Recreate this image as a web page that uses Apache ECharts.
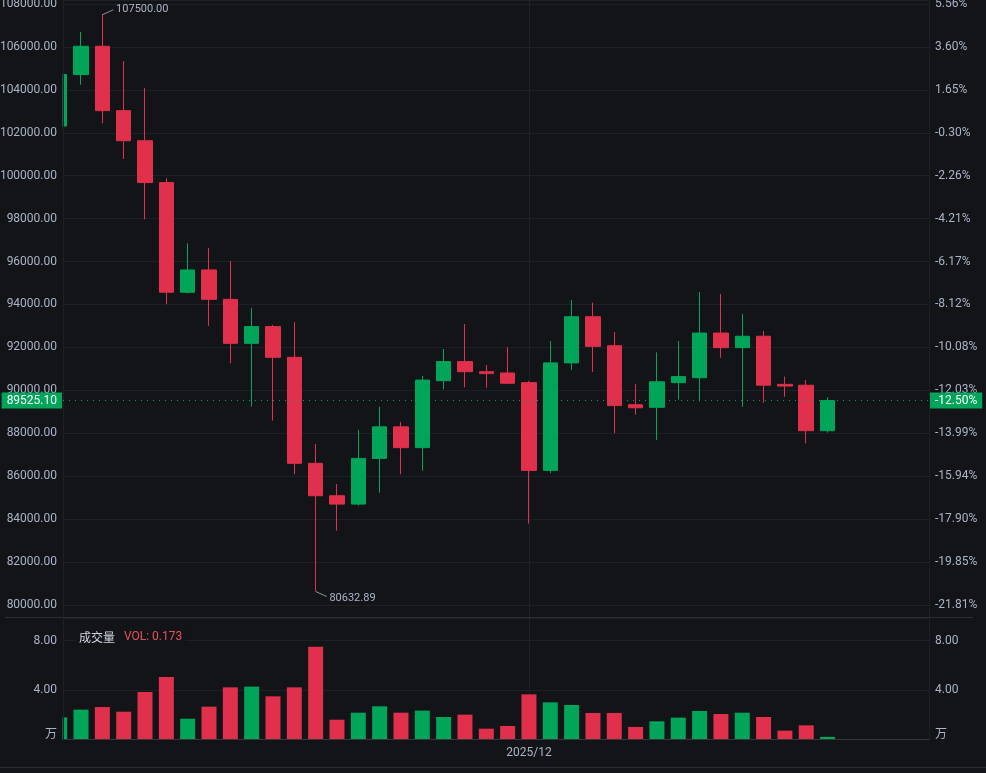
<!DOCTYPE html>
<html><head><meta charset="utf-8">
<script src="https://cdn.jsdelivr.net/npm/echarts@6/dist/echarts.min.js"></script>
<style>html,body{margin:0;padding:0;background:#131418;}#c{width:986px;height:773px;}</style>
</head><body><div id="c"></div>
<script>
const dates = ['2025/11/09','2025/11/10','2025/11/11','2025/11/12','2025/11/13','2025/11/14','2025/11/15','2025/11/16','2025/11/17','2025/11/18',
  '2025/11/19','2025/11/20','2025/11/21','2025/11/22','2025/11/23','2025/11/24','2025/11/25','2025/11/26','2025/11/27','2025/11/28',
  '2025/11/29','2025/11/30','2025/12/01','2025/12/02','2025/12/03','2025/12/04','2025/12/05','2025/12/06','2025/12/07','2025/12/08',
  '2025/12/09','2025/12/10','2025/12/11','2025/12/12','2025/12/13','2025/12/14','2025/12/15'];
const opens  = [102312,104710,106030,103030,101630,99680,94570,95610,94240,92190,92970,91540,86600,85090,84700,86830,88300,87330,90450,91340,90870,90810,90360,86270,91280,93430,92080,89330,89210,90360,90590,92670,91990,92520,90280,90240,88120];
const closes = [104720,106030,103030,101630,99680,94570,95610,94240,92190,92970,91540,86600,85090,84700,86830,88300,87330,90480,91340,90870,90780,90330,86270,91280,93430,92050,89290,89190,90400,90640,92670,91990,92520,90240,90200,88120,89525.10];
const lows   = [101400,104240,102440,100780,97970,94010,94520,93000,91260,89240,88590,86090,80632.89,83460,84630,85230,86090,86260,90050,90140,90120,90300,83790,86140,90950,90860,88010,88870,87690,89570,89490,91520,89240,89420,89700,87530,88030];
const highs  = [105500,106700,107500,105340,104090,99880,96850,96630,96030,93840,93050,93180,87500,85640,88150,89240,88530,90670,91930,93090,91180,92010,90440,92300,94210,94090,92720,90300,91770,92300,94580,94490,93560,92770,90640,90480,89680];
const volumes = [1.76,2.39,2.60,2.22,3.82,5.04,1.65,2.63,4.20,4.26,3.47,4.20,7.51,1.57,2.14,2.66,2.14,2.31,1.79,1.98,0.84,1.06,3.63,2.98,2.77,2.12,2.12,0.98,1.44,1.74,2.28,2.03,2.14,1.79,0.68,1.11,0.173];

const UP = '#00a55a', DOWN = '#e0304b', BG = '#131418', GRID = '#1e2028', LBL = '#a9b4c8';
const idx = dates.map((d, i) => i);
const candleData = idx.map(i => [i, opens[i], closes[i], lows[i], highs[i]]);
const volData = idx.map(i => ({ value: [i, volumes[i]], itemStyle: { color: closes[i] >= opens[i] ? UP : DOWN } }));
const monthStarts = idx.filter(i => dates[i].endsWith('/01'));
const base = opens[0];
const last = closes[closes.length - 1];
const lastVol = volumes[volumes.length - 1];
const pct = v => ((v / base - 1) * 100).toFixed(2) + '%';

const xMin = 0.155, xMax = 40.755;
const priceMin = 79441, priceMax = 108186;
const volMax = 9.84;

const chart = echarts.init(document.getElementById('c'));
const xCommon = {
  type: 'value', min: xMin, max: xMax,
  axisTick: { show: false, customValues: monthStarts },
  splitLine: { show: true, lineStyle: { color: GRID, width: 1 } }
};
const yLabel = { color: LBL, fontSize: 12, margin: 6 };
const volRich = { u: { color: LBL, fontSize: 12, fontFamily: '"Noto Sans CJK SC", sans-serif', padding: [0, 0, 12, 0] } };
chart.setOption({
  backgroundColor: BG,
  animation: false,
  textStyle: { fontFamily: 'Roboto, "Noto Sans CJK SC", sans-serif' },
  title: {
    left: 76, top: 627, padding: [1, 3], backgroundColor: BG,
    text: '{a|成交量}  {b|VOL: ' + lastVol + '}',
    textStyle: { fontWeight: 'normal', rich: {
      a: { color: '#d0d5df', fontSize: 12, fontWeight: 'normal', fontFamily: '"Noto Sans CJK SC", sans-serif' },
      b: { color: '#e5525a', fontSize: 12, fontWeight: 'normal', fontFamily: 'Roboto, sans-serif' }
    } }
  },
  graphic: [
    { type: 'rect', silent: true, z: 3, shape: { x: 0, y: 0, width: 62.5, height: 739 }, style: { fill: BG } },
    { type: 'line', silent: true, z: 4, shape: { x1: 5, y1: 617.5, x2: 973, y2: 617.5 }, style: { stroke: '#2a2e36', lineWidth: 1 } },
    { type: 'line', silent: true, z: 4, shape: { x1: 0, y1: 767.5, x2: 986, y2: 767.5 }, style: { stroke: '#2a2e36', lineWidth: 1 } }
  ],
  grid: [
    { left: 63, right: 57, top: 0, height: 617, outerBoundsMode: 'none', containLabel: false },
    { left: 63, right: 57, top: 618, height: 121, outerBoundsMode: 'none', containLabel: false }
  ],
  xAxis: [
    Object.assign({}, xCommon, { gridIndex: 0, axisLine: { show: false }, axisLabel: { show: false, customValues: monthStarts } }),
    Object.assign({}, xCommon, { gridIndex: 1,
      axisLine: { show: true, onZero: false, lineStyle: { color: '#33373f' } },
      axisLabel: { customValues: monthStarts, color: LBL, fontSize: 12, margin: 8,
        formatter: v => dates[v] ? dates[v].slice(0, 7) : '' } })
  ],
  yAxis: [
    { type: 'value', gridIndex: 0, position: 'left', z: 4, min: priceMin, max: priceMax, splitNumber: 14, minInterval: 2000, maxInterval: 2000,
      axisLine: { show: true, lineStyle: { color: GRID } }, axisTick: { show: false },
      axisLabel: Object.assign({}, yLabel, { showMinLabel: false, showMaxLabel: false, formatter: v => v.toFixed(2) }),
      splitLine: { show: false } },
    { type: 'value', gridIndex: 0, position: 'right', min: priceMin, max: priceMax, splitNumber: 14, minInterval: 2000, maxInterval: 2000,
      axisLine: { show: true, lineStyle: { color: GRID } }, axisTick: { show: false },
      axisLabel: Object.assign({}, yLabel, { showMinLabel: false, showMaxLabel: false, formatter: v => pct(v) }),
      splitLine: { show: true, lineStyle: { color: GRID } } },
    { type: 'value', gridIndex: 1, position: 'left', z: 4, min: 0, max: volMax, splitNumber: 2, minInterval: 4, maxInterval: 4,
      axisLine: { show: true, lineStyle: { color: GRID } }, axisTick: { show: false },
      axisLabel: Object.assign({}, yLabel, { showMaxLabel: false,
        formatter: v => v === 0 ? '{u|万}' : v.toFixed(2), rich: volRich }),
      splitLine: { show: false } },
    { type: 'value', gridIndex: 1, position: 'right', min: 0, max: volMax, splitNumber: 2, minInterval: 4, maxInterval: 4,
      axisLine: { show: true, lineStyle: { color: GRID } }, axisTick: { show: false },
      axisLabel: Object.assign({}, yLabel, { showMaxLabel: false,
        formatter: v => v === 0 ? '{u|万}' : v.toFixed(2), rich: volRich }),
      splitLine: { show: true, lineStyle: { color: GRID } } }
  ],
  series: [
    {
      type: 'candlestick', xAxisIndex: 0, yAxisIndex: 0, barWidth: 15,
      dimensions: ['idx', 'open', 'close', 'lowest', 'highest'],
      encode: { x: 'idx', y: ['open', 'close', 'lowest', 'highest'] },
      data: candleData,
      itemStyle: { color: UP, color0: DOWN, borderColor: UP, borderColor0: DOWN, borderWidth: 1 },
      markPoint: {
        silent: true,
        itemStyle: { color: 'transparent', borderColor: '#8d96a8', borderWidth: 1 },
        label: { color: LBL, fontSize: 11, formatter: p => Number(p.value).toFixed(2) },
        data: [
          { type: 'max', valueDim: 'highest', symbol: 'path://M0,5L11,0', symbolSize: [11, 5], symbolOffset: [5.5, -2.5],
            label: { position: 'right', distance: 2, offset: [0, -3] } },
          { type: 'min', valueDim: 'lowest', symbol: 'path://M0,0L11,5', symbolSize: [11, 5], symbolOffset: [5.5, 2.5],
            label: { position: 'right', distance: 2, offset: [0, 4] } }
        ]
      },
      markLine: {
        silent: true, symbol: ['none', 'none'],
        lineStyle: { color: UP, type: [1, 5], width: 1 },
        label: { backgroundColor: UP, color: '#ffffff', fontSize: 12, padding: [2, 5, 2, 5], distance: 1 },
        data: [
          { yAxis: last, label: { position: 'start', formatter: p => Number(p.value).toFixed(2) } },
          { yAxis: last, label: { position: 'end', formatter: p => pct(Number(p.value)) } }
        ]
      }
    },
    { type: 'bar', xAxisIndex: 1, yAxisIndex: 2, barWidth: 15, data: volData }
  ]
});
</script>
</body></html>
